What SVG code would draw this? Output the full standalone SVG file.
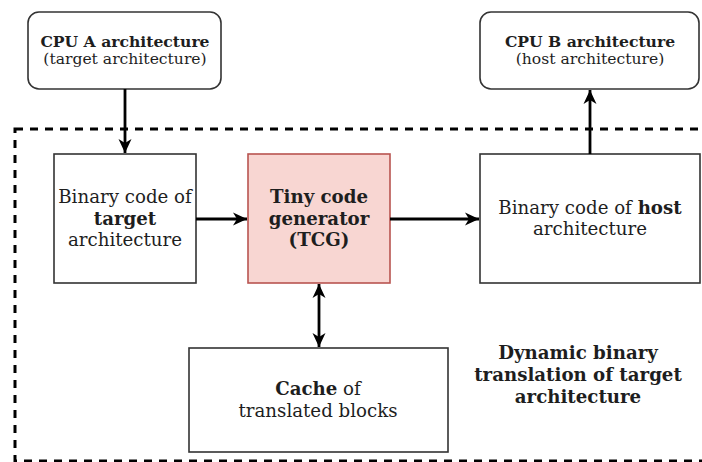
<svg xmlns="http://www.w3.org/2000/svg" width="702" height="462" viewBox="0 0 702 462">
  <style>
    text { font-family: "DejaVu Serif", "Liberation Serif", serif; font-size: 18.2px; fill: #1e1e1e; text-anchor: middle; }
    .b { font-weight: bold; }
    .sm { font-size: 15.6px; }
    .box { fill: #ffffff; stroke: #333333; stroke-width: 1.6; }
    .tcg { fill: #f8d6d2; stroke: #b85450; stroke-width: 1.6; }
    .edge { fill: none; stroke: #000000; stroke-width: 2.8; }
    .frame { fill: none; stroke: #000000; stroke-width: 3; stroke-dasharray: 8 7; }
  </style>
  <defs>
    <marker id="arrow" viewBox="0 0 16 14" refX="15" refY="7" markerWidth="16" markerHeight="14" markerUnits="userSpaceOnUse" orient="auto-start-reverse">
      <path d="M15,7 L1,0.5 L5,7 L1,13.5 Z" fill="#000000"/>
    </marker>
  </defs>
  <rect width="702" height="462" fill="#ffffff"/>

  <!-- dashed frame around the translation stage -->
  <rect class="frame" x="15" y="129" width="720" height="332"/>

  <g id="cpu-a">
    <rect class="box" x="28" y="12" width="193" height="77" rx="11"/>
    <text x="125" y="47" class="b sm">CPU A architecture</text>
    <text x="125" y="64" class="sm">(target architecture)</text>
  </g>

  <g id="cpu-b">
    <rect class="box" x="480" y="12" width="219" height="77" rx="11"/>
    <text x="590" y="47" class="b sm">CPU B architecture</text>
    <text x="590" y="64" class="sm">(host architecture)</text>
  </g>

  <g id="target-code">
    <rect class="box" x="54" y="154" width="142" height="129"/>
    <text x="125" y="203">Binary code of</text>
    <text x="125" y="225" class="b">target</text>
    <text x="125" y="246">architecture</text>
  </g>

  <g id="tcg">
    <rect class="tcg" x="248" y="154" width="142" height="129"/>
    <text x="319" y="203" class="b">Tiny code</text>
    <text x="319" y="225" class="b">generator</text>
    <text x="319" y="246" class="b">(TCG)</text>
  </g>

  <g id="host-code">
    <rect class="box" x="480" y="154" width="220" height="129"/>
    <text x="590" y="214">Binary code of <tspan class="b">host</tspan></text>
    <text x="590" y="235">architecture</text>
  </g>

  <g id="cache">
    <rect class="box" x="189" y="348" width="259" height="104"/>
    <text x="318" y="395"><tspan class="b">Cache</tspan> of</text>
    <text x="318" y="417">translated blocks</text>
  </g>

  <g id="caption">
    <text x="578" y="359" class="b">Dynamic binary</text>
    <text x="578" y="381" class="b">translation of target</text>
    <text x="578" y="403" class="b">architecture</text>
  </g>

  <g id="connectors">
    <line class="edge" x1="125" y1="89" x2="125" y2="153" marker-end="url(#arrow)"/>
    <line class="edge" x1="196" y1="219" x2="247" y2="219" marker-end="url(#arrow)"/>
    <line class="edge" x1="390" y1="219" x2="479" y2="219" marker-end="url(#arrow)"/>
    <line class="edge" x1="590" y1="154" x2="590" y2="90" marker-end="url(#arrow)"/>
    <line class="edge" x1="319" y1="284" x2="319" y2="347" marker-start="url(#arrow)" marker-end="url(#arrow)"/>
  </g>
</svg>
